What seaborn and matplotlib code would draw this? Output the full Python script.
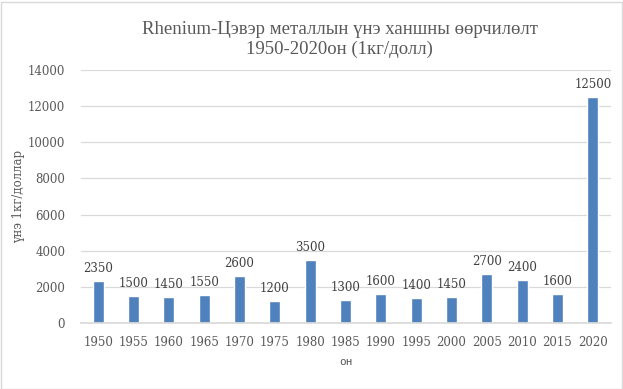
import matplotlib
matplotlib.use("Agg")
import matplotlib.pyplot as plt
import seaborn as sns
import pandas as pd

years = ["1950", "1955", "1960", "1965", "1970", "1975", "1980", "1985",
         "1990", "1995", "2000", "2005", "2010", "2015", "2020"]
prices = [2350, 1500, 1450, 1550, 2600, 1200, 3500, 1300,
          1600, 1400, 1450, 2700, 2400, 1600, 12500]
y_ticks = [0, 2000, 4000, 6000, 8000, 10000, 12000, 14000]

title = "Rhenium-Цэвэр металлын үнэ ханшны өөрчилөлт\n1950-2020он (1кг/долл)"
x_label = "он"
y_label = "үнэ 1кг/доллар"

sns.set_theme(style="white")
plt.rcParams['font.family'] = ['DejaVu Serif']

df = pd.DataFrame({"year": years, "price": prices})

fig = plt.figure(figsize=(6.23, 3.89), dpi=100)
ax = fig.add_axes([80.5 / 623, 1 - 323 / 389, (610.5 - 80.5) / 623, (323 - 70) / 389])

sns.barplot(data=df, x="year", y="price", ax=ax, color="#4f81bd", width=0.31,
            saturation=1)

ax.set_ylim(0, 14000)
ax.set_yticks(y_ticks)
ax.yaxis.grid(True, color="#d9d9d9", linewidth=0.9)
ax.set_axisbelow(True)
for s in ["top", "right", "left"]:
    ax.spines[s].set_visible(False)
ax.spines["bottom"].set_color("#d9d9d9")
ax.tick_params(axis="both", length=0, labelsize=8.5, colors="#595959")
ax.tick_params(axis="x", pad=9)
ax.tick_params(axis="y", pad=11)

for p, v in zip(ax.patches, prices):
    ax.annotate(f"{v}", (p.get_x() + p.get_width() / 2, p.get_height()),
                xytext=(0, 9), textcoords="offset points", ha="center",
                va="center", fontsize=8.5, color="#404040")

ax.set_xlabel(x_label, fontsize=8, color="#595959", fontfamily="DejaVu Sans Mono",
              labelpad=6)
ax.set_ylabel(y_label, fontsize=8.5, color="#595959", labelpad=2)

fig.text(0.545, 0.945, title, ha="center", va="top", fontsize=13.5,
         color="#595959", family="Liberation Serif", linespacing=1.15)

fig.patches.append(plt.Rectangle((0.5 / 623, 0.5 / 389), 621 / 623, 387 / 389,
                                 transform=fig.transFigure, fill=False,
                                 edgecolor="#d9d9d9", linewidth=1))

fig.savefig("out.png", dpi=100)
